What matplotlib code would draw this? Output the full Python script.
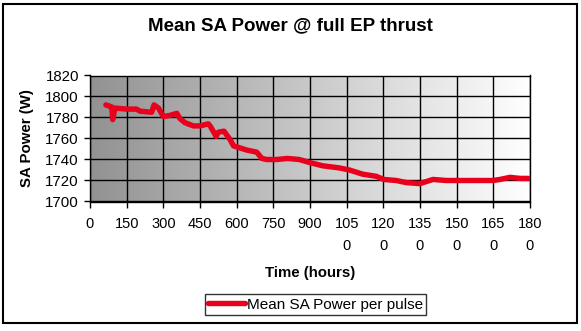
import numpy as np
import matplotlib
matplotlib.use("Agg")
import matplotlib.pyplot as plt
from matplotlib.patches import Rectangle

plt.rcParams['font.family'] = ['Liberation Sans', 'DejaVu Sans']

# Mean solar-array power per pulse over the thrusting time
hours = [65, 89, 93, 102, 150, 190, 205, 252, 262, 280, 300, 327, 355, 368,
         389, 423, 450, 484, 494, 516, 525, 548, 573, 587, 614, 641, 682,
         703, 723, 764, 808, 856, 900, 952, 1020, 1061, 1116, 1171, 1202,
         1253, 1294, 1349, 1376, 1403, 1458, 1540, 1650, 1677, 1718, 1759,
         1793]
power = [1792, 1790, 1778, 1789, 1788, 1788, 1786, 1785, 1792, 1789, 1781,
         1782, 1784, 1779, 1775, 1772, 1772, 1774, 1771, 1762, 1766, 1767,
         1759, 1753, 1751, 1749, 1747, 1741, 1740, 1740, 1741, 1740, 1737,
         1734, 1732, 1730, 1726, 1724, 1721, 1720, 1718, 1717, 1719, 1721,
         1720, 1720, 1720, 1721, 1723, 1722, 1722]

x_ticks = list(range(0, 1801, 150))
x_tick_labels = ['0', '150', '300', '450', '600', '750', '900',
                 '105\n0', '120\n0', '135\n0', '150\n0', '165\n0', '180\n0']
y_ticks = list(range(1700, 1821, 20))

W, H = 581, 331
fig = plt.figure(figsize=(W / 100, H / 100), dpi=100)
ax = fig.add_axes([90 / W, 1 - 201.5 / H, 440 / W, 126 / H])

# grey-to-white horizontal gradient behind the plot
grad = np.linspace(0, 1, 256).reshape(1, -1)
ax.imshow(grad, cmap=matplotlib.colors.LinearSegmentedColormap.from_list(
    'g', ['#929292', '#ffffff']), aspect='auto',
    extent=[0, 1, 0, 1], transform=ax.transAxes, zorder=0)

ax.plot(hours, power, color='#e8001c', lw=3.9, solid_capstyle='round',
        solid_joinstyle='round', zorder=3, label='Mean SA Power per pulse')

ax.set_xlim(0, 1800)
ax.set_ylim(1700, 1820)
ax.set_xticks(x_ticks)
ax.set_xticklabels(x_tick_labels, fontsize=10.5, linespacing=1.75, va='top')
ax.set_yticks(y_ticks)
ax.set_yticklabels([str(v) for v in y_ticks], fontsize=10.8)
ax.tick_params(axis='x', direction='out', length=4, width=1, color='black',
               pad=7)
ax.tick_params(axis='y', direction='out', length=4, width=1, color='black',
               pad=4)
ax.grid(True, color='black', lw=1, zorder=1)
ax.set_axisbelow(False)
for s in ax.spines.values():
    s.set_color('black')
    s.set_linewidth(1)
    s.set_zorder(2)

ax.set_xlabel('Time (hours)', fontsize=10.8, fontweight='bold', labelpad=9)
ax.set_ylabel('SA Power (W)', fontsize=10.8, fontweight='bold', labelpad=8)

fig.text(0.5, 1 - 26 / H, 'Mean SA Power @ full EP thrust', fontsize=13.5,
         fontweight='bold', ha='center', va='center')

leg = fig.legend(loc='center', bbox_to_anchor=(315.5 / W, 1 - 304.5 / H),
                 fontsize=11, frameon=True, fancybox=False, handlelength=2.4,
                 handletextpad=0.1, borderpad=0.25, borderaxespad=0)
leg.get_frame().set_edgecolor('black')
leg.get_frame().set_linewidth(1)

fig.patches.append(Rectangle((3 / W, 1 - 323 / H), 574 / W, 319 / H,
                             transform=fig.transFigure, fill=False,
                             edgecolor='black', lw=1.5))

fig.savefig('out.png', dpi=100)
